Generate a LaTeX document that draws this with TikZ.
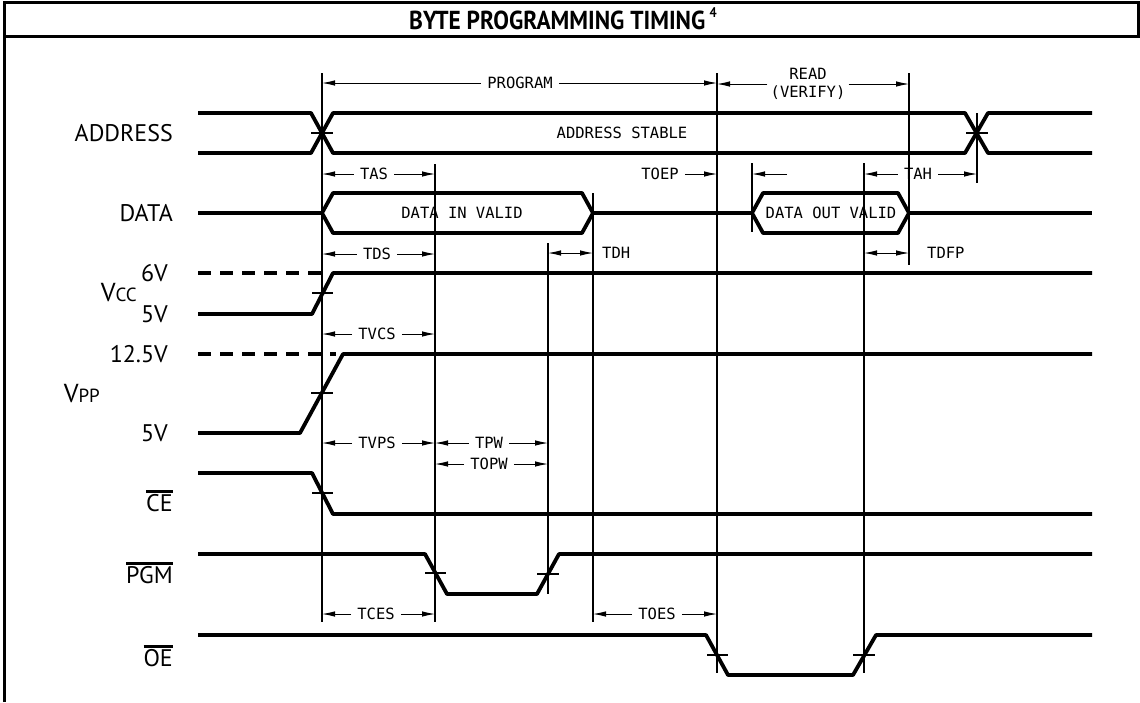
\documentclass[tikz,border=0pt]{standalone}
\usepackage{fontspec}
\setmainfont{PT Sans}
\newfontfamily\titlef[FakeStretch=0.9]{PT Sans}
\newfontfamily\monof{DejaVu Sans Mono}
\usetikzlibrary{arrows.meta}
\newcommand\ovl[1]{\leavevmode\vbox{\hrule height 2.2pt\kern 1.6pt\hbox{#1}}}
\begin{document}
\begin{tikzpicture}[x=1pt,y=-1pt,
  sig/.style={line width=3.8pt,line join=round},
  vline/.style={line width=1.1pt},
  tick/.style={line width=1.4pt},
  frame/.style={line width=3pt},
  >={Latex[length=13pt,width=5.5pt]},
  dim/.style={line width=0.9pt,->},
  ddim/.style={line width=0.9pt,<->},
  dimlbl/.style={font=\monof\fontsize{15.5}{18}\selectfont,inner sep=6pt},
  siglbl/.style={font=\fontsize{24}{24}\selectfont,anchor=east,inner sep=0pt}]
\useasboundingbox (0,0) rectangle (1140,702);
\fill[white] (0,0) rectangle (1140,702);
% frame
\coordinate (f1) at (4,702); \coordinate (f2) at (4,2); \coordinate (f3) at (1138,2);
\coordinate (f4) at (1138,36); \coordinate (f5) at (4,36);
\draw[frame] (f1) -- (f2) -- (f3) -- (f4) -- (f5);
\node[inner sep=0pt] (title) at (563,19) {\titlef\fontsize{26}{26}\selectfont\bfseries BYTE PROGRAMMING TIMING\,\raisebox{0.45em}{\fontsize{14}{14}\selectfont 4}};
% signal labels
\node[siglbl] (addr) at (173,133) {ADDRESS};
\node[siglbl] (data) at (173,213) {DATA};
\node[siglbl] (v6) at (168,273) {6V};
\node[siglbl] (v5a) at (168,314) {5V};
\node[siglbl] (vcc) at (137,293) {\fontsize{26}{26}\selectfont V\fontsize{19}{19}\selectfont CC};
\node[siglbl] (v125) at (168,354) {12.5V};
\node[siglbl] (v5b) at (168,433) {5V};
\node[siglbl] (vpp) at (100,394) {\fontsize{26}{26}\selectfont V\fontsize{19}{19}\selectfont PP};
\node[siglbl] (ce) at (173,501) {\ovl{CE}};
\node[siglbl] (pgm) at (173,573) {\ovl{PGM}};
\node[siglbl] (oe) at (173,656) {\ovl{OE}};
% vertical timing lines
\foreach \n/\x/\a/\b in {A/322/73/622, B/435/164/622, I/548/243/594, C/593/193/622,
  D/717/73/673, H/752/163/232, E/864/163/673, F/909/73/265, G/977/113/183}{
  \coordinate (\n t) at (\x,\a); \coordinate (\n b) at (\x,\b);
  \draw[vline] (\n t) -- (\n b);}
% ADDRESS
\draw[sig] (198,113) -- (311,113) -- (333,153) -- (965,153) -- (988,113) -- (1092,113);
\draw[sig] (198,153) -- (311,153) -- (333,113) -- (965,113) -- (988,153) -- (1092,153);
\draw[tick] (311,133) -- (333,133);
\draw[tick] (966,133) -- (988,133);
\node[dimlbl] (stable) at (622,133) {ADDRESS STABLE};
% DATA
\draw[sig] (198,213) -- (322,213);
\draw[sig] (322,213) -- (333,193) -- (582,193) -- (593,213) -- (582,233) -- (333,233) -- cycle;
\draw[sig] (593,213) -- (752,213);
\draw[sig] (752,213) -- (763,193) -- (898,193) -- (909,213) -- (898,233) -- (763,233) -- cycle;
\draw[sig] (909,213) -- (1092,213);
\node[dimlbl] (din) at (462,213) {DATA IN VALID};
\node[dimlbl] (dout) at (831,213) {DATA OUT VALID};
% VCC
\draw[sig,dash pattern=on 13pt off 9pt] (198,273) -- (322,273);
\draw[sig] (198,314) -- (312,314) -- (333,273) -- (1092,273);
\draw[tick] (312,293) -- (333,293);
% VPP
\draw[sig,dash pattern=on 13pt off 9pt] (198,354) -- (336,354);
\draw[sig] (198,433) -- (300,433) -- (343,354) -- (1092,354);
\draw[tick] (311,393) -- (333,393);
% CE
\draw[sig] (198,473) -- (312,473) -- (333,514) -- (1092,514);
\draw[tick] (312,493) -- (333,493);
% PGM
\draw[sig] (198,554) -- (425,554) -- (447,594) -- (537,594) -- (559,554) -- (1092,554);
\draw[tick] (425,573) -- (446,573);
\draw[tick] (537,574) -- (559,574);
% OE
\draw[sig] (198,635) -- (706,635) -- (728,675) -- (853,675) -- (876,635) -- (1092,635);
\draw[tick] (707,655) -- (728,655);
\draw[tick] (853,655) -- (875,655);
% dimension labels
\node[dimlbl] (prog) at (520,83) {PROGRAM};
\draw[dim] (prog.west) -- (prog.west -| At);
\draw[dim] (prog.east) -- (prog.east -| Dt);
\node[dimlbl,align=center,inner sep=3pt] (read) at (808,84) {READ\\(VERIFY)};
\draw[dim] (read.west) -- (read.west -| Dt);
\draw[dim] (read.east) -- (read.east -| Ft);
\node[dimlbl] (tas) at (374,174) {TAS};
\draw[dim] (tas.west) -- (tas.west -| At);
\draw[dim] (tas.east) -- (tas.east -| Bt);
\node[dimlbl] (toep) at (660,174) {TOEP};
\draw[dim] (toep.east) -- (toep.east -| Dt);
\coordinate (hs) at (787,174);
\draw[dim] (hs) -- (hs -| Ht);
\node[dimlbl] (tah) at (918,174) {TAH};
\draw[dim] (tah.west) -- (tah.west -| Et);
\draw[dim] (tah.east) -- (tah.east -| Gt);
\node[dimlbl] (tds) at (377,254) {TDS};
\draw[dim] (tds.west) -- (tds.west -| At);
\draw[dim] (tds.east) -- (tds.east -| Bt);
\node[dimlbl,anchor=west,inner sep=4pt] (tdh) at (598,253) {TDH};
\draw[ddim] (tdh.west -| It) -- (tdh.west -| Ct);
\node[dimlbl,anchor=west,inner sep=4pt] (tdfp) at (923,253) {TDFP};
\draw[ddim] (tdfp.west -| Et) -- (tdfp.west -| Ft);
\node[dimlbl] (tvcs) at (377,334) {TVCS};
\draw[dim] (tvcs.west) -- (tvcs.west -| At);
\draw[dim] (tvcs.east) -- (tvcs.east -| Bt);
\node[dimlbl] (tvps) at (377,443) {TVPS};
\draw[dim] (tvps.west) -- (tvps.west -| At);
\draw[dim] (tvps.east) -- (tvps.east -| Bt);
\node[dimlbl] (tpw) at (489,443) {TPW};
\draw[dim] (tpw.west) -- (tpw.west -| Bt);
\draw[dim] (tpw.east) -- (tpw.east -| It);
\node[dimlbl] (topw) at (489,464) {TOPW};
\draw[dim] (topw.west) -- (topw.west -| Bt);
\draw[dim] (topw.east) -- (topw.east -| It);
\node[dimlbl] (tces) at (376,614) {TCES};
\draw[dim] (tces.west) -- (tces.west -| At);
\draw[dim] (tces.east) -- (tces.east -| Bt);
\node[dimlbl] (toes) at (657,614) {TOES};
\draw[dim] (toes.west) -- (toes.west -| Ct);
\draw[dim] (toes.east) -- (toes.east -| Dt);
\end{tikzpicture}
\end{document}
